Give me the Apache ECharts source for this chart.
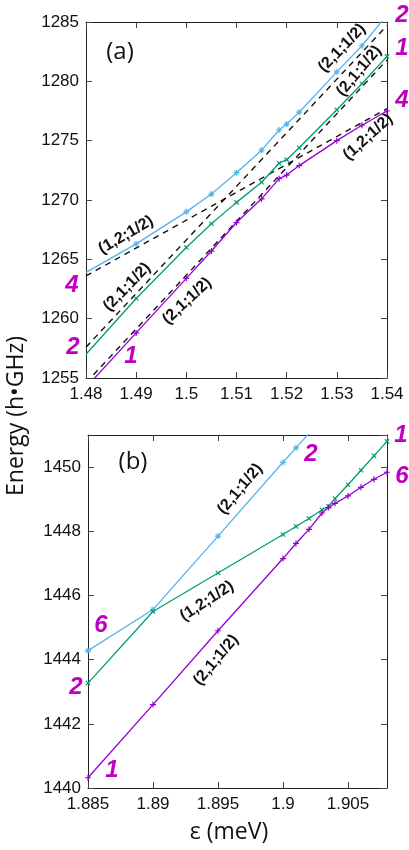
<!DOCTYPE html>
<html><head><meta charset="utf-8">
<script src="https://cdn.jsdelivr.net/npm/echarts@6/dist/echarts.min.js"></script>
<style>html,body{margin:0;padding:0;background:#fff}#c{width:409px;height:850px}</style>
</head><body><div id="c"></div>
<script>
// ---------- Panel (a) ----------
const aXTicks = [1.48, 1.49, 1.5, 1.51, 1.52, 1.53, 1.54];
const aYTicks = [1255, 1260, 1265, 1270, 1275, 1280, 1285];
const aBlue = [[1.48,1263.9],[1.49,1266.3],[1.5,1269.0],[1.505,1270.5],[1.51,1272.3],[1.515,1274.2],[1.5185,1275.9],[1.52,1276.4],[1.5225,1277.4],[1.53,1280.8],[1.535,1283.0],[1.54,1285.6]];
const aGreen = [[1.48,1257.0],[1.49,1261.7],[1.5,1266.0],[1.505,1268.0],[1.51,1269.8],[1.515,1271.5],[1.5185,1273.1],[1.52,1273.4],[1.5225,1274.4],[1.53,1277.6],[1.535,1279.8],[1.54,1282.1]];
const aPurple = [[1.48,1254.2],[1.49,1258.8],[1.5,1263.4],[1.505,1265.7],[1.51,1268.1],[1.515,1270.1],[1.5185,1271.8],[1.52,1272.1],[1.5225,1272.9],[1.53,1275.0],[1.535,1276.3],[1.54,1277.5]];
const aDash12 = [[1.48,1263.6],[1.54,1277.7]];
const aDash21a = [[1.48,1257.6],[1.54,1284.7]];
const aDash21b = [[1.48,1254.6],[1.54,1281.8]];
// ---------- Panel (b) ----------
const bXTicks = [1.885, 1.89, 1.895, 1.9, 1.905];
const bYTicks = [1440, 1442, 1444, 1446, 1448, 1450];
const bBlue = [[1.885,1444.28],[1.89,1445.56],[1.895,1447.85],[1.9,1450.15],[1.901,1450.6],[1.902,1451.05]];
const bGreen = [[1.885,1443.27],[1.89,1445.5],[1.895,1446.7],[1.9,1447.9],[1.901,1448.15],[1.902,1448.4],[1.903,1448.67],[1.9035,1448.78],[1.904,1449.02],[1.905,1449.45],[1.906,1449.9],[1.907,1450.35],[1.908,1450.8]];
const bPurple = [[1.885,1440.32],[1.89,1442.6],[1.895,1444.9],[1.9,1447.15],[1.901,1447.62],[1.902,1448.06],[1.903,1448.57],[1.9035,1448.74],[1.904,1448.87],[1.905,1449.1],[1.906,1449.37],[1.907,1449.62],[1.908,1449.84]];

const C_BLUE = '#56b4e9', C_GREEN = '#009e73', C_PURPLE = '#9400d3', C_MAG = '#c000c0';
const PLUS = 'path://M4,0H6V4H10V6H6V10H4V6H0V4H4Z';
const STAR = 'path://M4,0H6V4H10V6H6V10H4V6H0V4H4Z M0.7,1.4L1.4,0.7L9.3,8.6L8.6,9.3Z M8.6,0.7L9.3,1.4L1.4,9.3L0.7,8.6Z';

const chart = echarts.init(document.getElementById('c'), null, {renderer: 'canvas'});
const fmt = (v) => String(+(+v).toFixed(4));

function xAx(grid, pos, ticks, labels) {
  const step = +(ticks[1] - ticks[0]).toFixed(6);
  return {
    type: 'value', gridIndex: grid, position: pos,
    min: ticks[0], max: grid === 0 ? 1.54 : 1.908, interval: step,
    axisLine: {show: true, onZero: false, lineStyle: {color: '#222', width: 1}},
    axisTick: {show: true, inside: true, length: 6, lineStyle: {color: '#444'}},
    axisLabel: {show: labels, margin: 8, color: '#111', fontSize: 17, fontFamily: 'Liberation Sans, Arial', showMaxLabel: grid === 0, formatter: fmt},
    splitLine: {show: false}
  };
}
function yAx(grid, pos, ticks, labels) {
  const step = ticks[1] - ticks[0];
  return {
    type: 'value', gridIndex: grid, position: pos,
    min: ticks[0], max: grid === 0 ? 1285 : 1451, interval: step,
    axisLine: {show: true, onZero: false, lineStyle: {color: '#222', width: 1}},
    axisTick: {show: true, inside: true, length: 6, lineStyle: {color: '#444'}},
    axisLabel: {show: labels, margin: 7, color: '#111', fontSize: 17, fontFamily: 'Liberation Sans, Arial', showMaxLabel: grid === 0, formatter: fmt},
    splitLine: {show: false}
  };
}
function curve(xi, yi, data, color, sym, rot, hideFirst) {
  return {
    type: 'line', xAxisIndex: xi, yAxisIndex: yi, data: data, clip: true,
    smooth: false,
    symbol: hideFirst ? (v) => (v[0] === data[0][0] ? 'none' : sym) : sym,
    symbolSize: 6, symbolRotate: rot,
    showSymbol: true, showAllSymbol: true,
    lineStyle: {color: color, width: 1.3},
    itemStyle: {color: color},
    emphasis: {disabled: true}, silent: true, z: 3
  };
}
function dash(xi, yi, data) {
  return {
    type: 'line', xAxisIndex: xi, yAxisIndex: yi, data: data, clip: true,
    symbol: 'none', lineStyle: {color: '#111', width: 1.4, type: [6, 5]},
    emphasis: {disabled: true}, silent: true, z: 2
  };
}

const labFont = 'bold 16px "Liberation Sans", Arial';
const magFont = 'italic bold 24px "Liberation Sans", Arial';
function txt(x, y, t, font, fill, rotDeg) {
  return {type: 'text', x: x, y: y, rotation: (rotDeg || 0) * Math.PI / 180, z: 10, silent: true,
    style: {text: t, font: font, fill: fill, align: 'center', verticalAlign: 'middle', textAlign: 'center', textVerticalAlign: 'middle'}};
}

chart.setOption({
  animation: false,
  backgroundColor: '#fff',
  grid: [
    {left: 86, top: 22, width: 301, height: 356},
    {left: 88, top: 435, width: 299, height: 353}
  ],
  xAxis: [xAx(0, 'bottom', aXTicks, true), xAx(0, 'top', aXTicks, false), xAx(1, 'bottom', bXTicks, true), xAx(1, 'top', bXTicks, false)],
  yAxis: [yAx(0, 'left', aYTicks, true), yAx(0, 'right', aYTicks, false), yAx(1, 'left', bYTicks, true), yAx(1, 'right', bYTicks, false)],
  series: [
    dash(0, 0, aDash12), dash(0, 0, aDash21a), dash(0, 0, aDash21b),
    curve(0, 0, aBlue, C_BLUE, STAR, 0, true),
    curve(0, 0, aGreen, C_GREEN, PLUS, 45, true),
    curve(0, 0, aPurple, C_PURPLE, PLUS, 0, true),
    curve(2, 2, bBlue, C_BLUE, STAR, 0, false),
    curve(2, 2, bGreen, C_GREEN, PLUS, 45, false),
    curve(2, 2, bPurple, C_PURPLE, PLUS, 0, false)
  ],
  graphic: [
    txt(120, 52, '(a)', '24px "Open Sans", Arial', '#111'),
    txt(133, 462, '(b)', '24px "Open Sans", Arial', '#111'),
    txt(16, 416, 'Energy (h•GHz)', '23px "Open Sans", Arial', '#111', 90),
    txt(229, 832, 'ε (meV)', '23px "Open Sans", Arial', '#111'),
    // panel (a) state labels
    txt(342, 48, '(2,1;1/2)', labFont, '#111', 46),
    txt(359, 71, '(2,1;1/2)', labFont, '#111', 50),
    txt(368, 137, '(1,2;1/2)', labFont, '#111', 42),
    txt(126, 235, '(1,2;1/2)', labFont, '#111', 30),
    txt(127, 287, '(2,1;1/2)', labFont, '#111', 46),
    txt(187, 301, '(2,1;1/2)', labFont, '#111', 43),
    // panel (b) state labels
    txt(240, 489, '(2,1;1/2)', labFont, '#111', 50),
    txt(207, 601, '(1,2;1/2)', labFont, '#111', 33),
    txt(216, 660, '(2,1;1/2)', labFont, '#111', 50),
    // magenta level numbers
    txt(402, 15, '2', magFont, C_MAG), txt(402, 48, '1', magFont, C_MAG), txt(402, 100, '4', magFont, C_MAG),
    txt(72, 285, '4', magFont, C_MAG), txt(73, 347, '2', magFont, C_MAG), txt(131, 356, '1', magFont, C_MAG),
    txt(401, 435, '1', magFont, C_MAG), txt(402, 476, '6', magFont, C_MAG), txt(311, 454, '2', magFont, C_MAG),
    txt(101, 625, '6', magFont, C_MAG), txt(76, 687, '2', magFont, C_MAG), txt(112, 770, '1', magFont, C_MAG)
  ]
});
</script></body></html>
